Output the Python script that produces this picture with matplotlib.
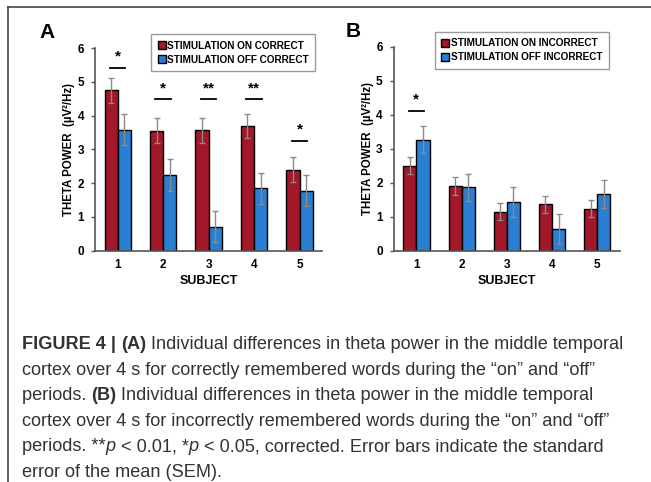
import matplotlib
matplotlib.use('Agg')
import matplotlib.pyplot as plt
from matplotlib.lines import Line2D
from matplotlib.patches import Patch
import numpy as np

subjects = ['1', '2', '3', '4', '5']

# A: correct words
on_correct = [4.75, 3.55, 3.57, 3.69, 2.40]
on_correct_err = [0.37, 0.37, 0.37, 0.36, 0.37]
off_correct = [3.59, 2.25, 0.71, 1.85, 1.78]
off_correct_err = [0.46, 0.47, 0.46, 0.46, 0.46]
sig_a_y = [5.42, 4.49, 4.49, 4.49, 3.25]
sig_a_text = ['*', '*', '**', '**', '*']

# B: incorrect words
on_incorrect = [2.50, 1.90, 1.15, 1.36, 1.24]
on_incorrect_err = [0.25, 0.26, 0.25, 0.25, 0.25]
off_incorrect = [3.27, 1.86, 1.44, 0.64, 1.67]
off_incorrect_err = [0.41, 0.41, 0.44, 0.43, 0.42]
sig_b_y = [4.11]
sig_b_text = ['*']

RED = '#a3172a'
BLUE = '#2a7fd3'
AX_COLOR = '#555555'

caption_lines = [
    [('FIGURE 4 | ', 'bold'), ('(A)', 'bold'),
     (' Individual differences in theta power in the middle temporal', 'normal')],
    [('cortex over 4 s for correctly remembered words during the \u201con\u201d and \u201coff\u201d', 'normal')],
    [('periods. ', 'normal'), ('(B)', 'bold'),
     (' Individual differences in theta power in the middle temporal', 'normal')],
    [('cortex over 4 s for incorrectly remembered words during the \u201con\u201d and \u201coff\u201d', 'normal')],
    [('periods. **', 'normal'), ('p', 'italic'), (' < 0.01, *', 'normal'), ('p', 'italic'),
     (' < 0.05, corrected. Error bars indicate the standard', 'normal')],
    [('error of the mean (SEM).', 'normal')],
]

plt.rcParams['font.family'] = ['Liberation Sans', 'DejaVu Sans']


# 画一个面板
def draw_panel(ax, on_vals, on_err, off_vals, off_err, sig_idx, sig_y, sig_text,
               labels, letter, letter_x, leg_pos):
    x = np.arange(1, len(subjects) + 1)
    w = 0.29
    ekw = dict(ecolor='#8a8a8a', elinewidth=1.0, capsize=2.5, capthick=1.0)
    ax.bar(x - w / 2, on_vals, w, yerr=on_err, color=RED, edgecolor='black',
           linewidth=1.0, error_kw=ekw, label=labels[0])
    ax.bar(x + w / 2, off_vals, w, yerr=off_err, color=BLUE, edgecolor='black',
           linewidth=1.0, error_kw=ekw, label=labels[1])

    # 显著性标记
    for i, yy, t in zip(sig_idx, sig_y, sig_text):
        ax.plot([x[i] - 0.17, x[i] + 0.17], [yy, yy], color='black', lw=1.3)
        ax.text(x[i], yy + 0.12, t, ha='center', va='bottom', fontsize=11, fontweight='bold')

    ax.set_xlim(0.5, 5.5)
    ax.set_ylim(0, 6)
    ax.set_yticks(range(0, 7))
    ax.set_xticks(x)
    ax.set_xticklabels(subjects)
    ax.tick_params(axis='x', length=0, pad=6, labelsize=8.5)
    ax.tick_params(axis='y', length=3, width=1, color=AX_COLOR, labelsize=8.5, pad=5)
    for lab in ax.get_xticklabels() + ax.get_yticklabels():
        lab.set_fontweight('bold')
    for s in ['top', 'right']:
        ax.spines[s].set_visible(False)
    for s in ['left', 'bottom']:
        ax.spines[s].set_color(AX_COLOR)
        ax.spines[s].set_linewidth(1.2)
    ax.set_xlabel('SUBJECT', fontsize=9, fontweight='bold', labelpad=3)
    ax.set_ylabel('THETA POWER  (\u00b5V\u00b2/Hz)', fontsize=8.3, fontweight='bold', labelpad=1.5)

    handles = [Patch(facecolor=RED, edgecolor='black', label=labels[0]),
               Patch(facecolor=BLUE, edgecolor='black', label=labels[1])]
    leg = ax.legend(handles=handles, loc='upper right', bbox_to_anchor=leg_pos,
                    fancybox=False, edgecolor='#9a9a9a', framealpha=1,
                    handlelength=0.8, handleheight=0.8, handletextpad=0.15,
                    borderpad=0.65, labelspacing=0.4, borderaxespad=0,
                    prop={'size': 7.2, 'weight': 'bold'})
    leg.get_frame().set_linewidth(1.0)
    ax.text(letter_x, 1.03, letter, transform=ax.transAxes, fontsize=15, fontweight='bold',
            ha='left', va='bottom')


# 图注文字
def draw_caption(fig, lines, x0, y0, dy, size):
    renderer = fig.canvas.get_renderer()
    for k, runs in enumerate(lines):
        x = x0
        y = y0 - k * dy
        for txt, style in runs:
            kw = {'fontsize': size, 'color': '#333333'}
            if style == 'bold':
                kw['fontweight'] = 'bold'
            elif style == 'italic':
                kw['fontstyle'] = 'italic'
            t = fig.text(x, y, txt, ha='left', va='baseline', **kw)
            bb = t.get_window_extent(renderer=renderer)
            x += bb.width / fig.bbox.width


fig = plt.figure(figsize=(6.51, 4.82), dpi=100)
ax_a = fig.add_axes([0.146, 0.480, 0.349, 0.420])
ax_b = fig.add_axes([0.605, 0.480, 0.347, 0.423])

draw_panel(ax_a, on_correct, on_correct_err, off_correct, off_correct_err,
           [0, 1, 2, 3, 4], sig_a_y, sig_a_text,
           ['STIMULATION ON CORRECT', 'STIMULATION OFF CORRECT'], 'A', -0.245, (0.969, 1.069))
draw_panel(ax_b, on_incorrect, on_incorrect_err, off_incorrect, off_incorrect_err,
           [0], sig_b_y, sig_b_text,
           ['STIMULATION ON INCORRECT', 'STIMULATION OFF INCORRECT'], 'B', -0.215, (0.951, 1.074))

# 外框线
fig.add_artist(Line2D([8 / 651, 1.0], [1 - 7 / 482, 1 - 7 / 482], color='#444444', lw=1.2))
fig.add_artist(Line2D([8 / 651, 8 / 651], [0.0, 1 - 7 / 482], color='#444444', lw=1.2))

fig.canvas.draw()
draw_caption(fig, caption_lines, 22 / 651, 1 - 349 / 482, 25.6 / 482, 13.1)

fig.savefig('out.png', dpi=100)
